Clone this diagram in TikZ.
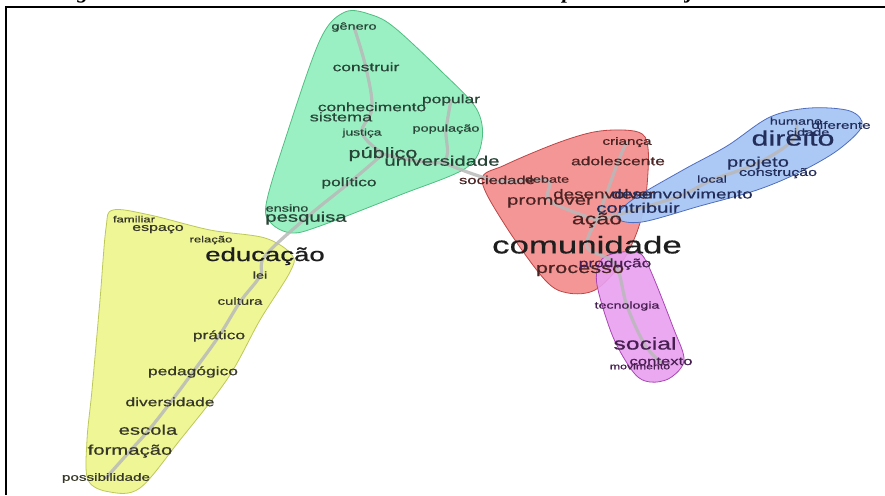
\documentclass[tikz,border=0pt]{standalone}
\usepackage{fontspec}
\newfontfamily\wf[FakeStretch=1.45,FakeBold=0.6]{Liberation Sans}
\newfontfamily\titlef{Liberation Serif}
\pgfdeclarelayer{hull}\pgfdeclarelayer{tree}
\pgfsetlayers{hull,tree,main}
\definecolor{gfill}{RGB}{155,240,195}\definecolor{gedge}{RGB}{80,190,130}
\definecolor{yfill}{RGB}{238,246,150}\definecolor{yedge}{RGB}{190,200,90}
\definecolor{rfill}{RGB}{244,150,150}\definecolor{redge}{RGB}{190,70,70}
\definecolor{bfill}{RGB}{168,198,245}\definecolor{bedge}{RGB}{80,110,190}
\definecolor{mfill}{RGB}{232,160,240}\definecolor{medge}{RGB}{170,70,180}
\definecolor{gt}{RGB}{40,68,55}\definecolor{yt}{RGB}{55,55,40}
\definecolor{rt}{RGB}{75,35,35}\definecolor{bt}{RGB}{35,45,90}
\definecolor{mt}{RGB}{70,30,80}\definecolor{kt}{RGB}{30,30,30}
\definecolor{treegray}{RGB}{185,185,185}
\tikzset{
  w/.style={inner sep=0pt, font=\wf\fontsize{#1}{#1}\selectfont, text height={0.53*#1pt}, text depth=0pt},
  hullg/.style={fill=gfill, draw=gedge, line width=0.8pt},
  hully/.style={fill=yfill, draw=yedge, line width=0.8pt},
  hullr/.style={fill=rfill, draw=redge, line width=0.8pt},
  hullb/.style={fill=bfill, draw=bedge, line width=0.8pt, fill opacity=0.95},
  hullm/.style={fill=mfill, draw=medge, line width=0.8pt, fill opacity=0.9},
  tree/.style={draw=treegray, line width=3.2pt, opacity=0.85, line cap=round, line join=round},
  titleletter/.style={font=\titlef\bfseries\itshape\fontsize{22}{22}\selectfont, anchor=base, inner sep=0pt},
  frame/.style={line width=2.5pt, draw=black}
}
\begin{document}
\begin{tikzpicture}[x=1pt,y=-1pt]
\useasboundingbox (0,0) rectangle (885,495);
\begin{pgfonlayer}{hull}
\fill[white] (0,0) rectangle (885,495);
% green hull
\draw[hullg] plot[smooth cycle, tension=0.55] coordinates {(345,12) (372,15) (395,28) (440,70) (476,108) (482,140) (466,168) (400,195) (320,226) (292,233) (272,224) (266,205) (285,140) (320,40)};
% yellow hull
\draw[hully] plot[smooth cycle, tension=0.55] coordinates {(113,210) (150,215) (210,230) (265,238) (292,255) (290,272) (260,320) (228,378) (180,440) (140,488) (110,492) (88,480) (87,440) (92,390) (100,300) (106,228)};
% red hull
\draw[hullr] plot[smooth cycle, tension=0.55] coordinates {(482,180) (505,165) (560,142) (600,131) (638,132) (648,148) (646,195) (637,232) (620,265) (595,290) (568,293) (545,280) (505,225)};
% blue hull
\draw[hullb] plot[smooth cycle, tension=0.55] coordinates {(617,218) (632,200) (683,170) (727,146) (770,117) (810,108) (850,111) (862,126) (838,150) (800,172) (757,190) (700,206) (642,222)};
% magenta hull
\draw[hullm] plot[smooth cycle, tension=0.55] coordinates {(600,262) (612,254) (636,252) (648,265) (673,327) (684,360) (670,378) (650,382) (634,373) (613,337) (597,285)};
\end{pgfonlayer}
% green words
\node[w=10,text=gt] (genero) at (354,27) {gênero};
\node[w=12,text=gt] (construir) at (366,68) {construir};
\node[w=12,text=gt] (conhecimento) at (372,108) {conhecimento};
\node[w=12,text=gt] (popular) at (451,100) {popular};
\node[w=12.5,text=gt] (sistema) at (341,118) {sistema};
\node[w=9.5,text=gt] (justica) at (362,133) {justiça};
\node[w=10,text=gt] (populacao) at (446,129) {população};
\node[w=15,text=gt] (publico) at (383,154) {público};
\node[w=14,text=gt] (universidade) at (442,162) {universidade};
\node[w=12,text=gt] (politico) at (349,183) {político};
\node[w=10,text=gt] (ensino) at (287,209) {ensino};
\node[w=14,text=gt] (pesquisa) at (306,218) {pesquisa};
% yellow words
\node[w=9,text=yt] (familiar) at (134,220) {familiar};
\node[w=11,text=yt] (espaco) at (158,228) {espaço};
\node[w=9,text=yt] (relacao) at (211,240) {relação};
\node[w=19,text=kt] (educacao) at (265,256) {educação};
\node[w=10,text=yt] (lei) at (260,276) {lei};
\node[w=10.3,text=yt] (cultura) at (240,302) {cultura};
\node[w=12,text=yt] (pratico) at (219,336) {prático};
\node[w=12,text=yt] (pedagogico) at (193,372) {pedagógico};
\node[w=12,text=yt] (diversidade) at (170,403) {diversidade};
\node[w=14,text=yt] (escola) at (148,431) {escola};
\node[w=14,text=yt] (formacao) at (130,451) {formação};
\node[w=10.5,text=yt] (possibilidade) at (106,478) {possibilidade};
% red words
\node[w=11.5,text=rt] (sociedade) at (497,181) {sociedade};
\node[w=10,text=rt] (debate) at (547,180) {debate};
\node[w=10.5,text=rt] (crianca) at (627,142) {criança};
\node[w=12,text=rt] (adolescente) at (618,162) {adolescente};
\node[w=14,text=rt] (promover) at (550,201) {promover};
\node[w=13,text=rt] (desenvolver) at (604,195) {desenvolver};
\node[w=13,text=bt] (desenvolvimento) at (682,195) {desenvolvimento};
\node[w=14,text=bt] (contribuir) at (638,209) {contribuir};
\node[w=16,text=rt] (acao) at (597,220) {ação};
\node[w=24,text=kt] (comunidade) at (587,247) {comunidade};
\node[w=15,text=rt] (processo) at (580,269) {processo};
\node[w=12,text=mt] (producao) at (615,264) {produção};
% blue words
\node[w=10,text=bt] (humano) at (796,122) {humano};
\node[w=10.5,text=bt] (diferente) at (841,126) {diferente};
\node[w=10,text=bt] (cidade) at (808,133) {cidade};
\node[w=21,text=bt] (direito) at (793,140) {direito};
\node[w=14,text=bt] (projeto) at (758,163) {projeto};
\node[w=11,text=bt] (construcao) at (778,173) {construção};
\node[w=10,text=bt] (local) at (712,180) {local};
% magenta words
\node[w=9.8,text=mt] (tecnologia) at (627,306) {tecnologia};
\node[w=17,text=mt] (social) at (645,345) {social};
\node[w=11.5,text=mt] (contexto) at (661,362) {contexto};
\node[w=8.5,text=mt] (movimento) at (640,367) {movimento};
% tree lines
\begin{pgfonlayer}{tree}
\draw[tree] plot[smooth, tension=0.6] coordinates {(possibilidade) (formacao) (escola) (diversidade) (pedagogico) (pratico) (cultura) (lei) (educacao) (pesquisa) (politico) (publico)};
\draw[tree] plot[smooth, tension=0.6] coordinates {(publico) (justica) (conhecimento) (construir) (genero)};
\draw[tree] plot[smooth, tension=0.6] coordinates {(publico) (universidade) (populacao) (popular)};
\draw[tree] plot[smooth, tension=0.6] coordinates {(universidade) (sociedade) (debate) (promover) (acao)};
\draw[tree] plot[smooth, tension=0.6] coordinates {(acao) (adolescente) (crianca)};
\draw[tree] plot[smooth, tension=0.6] coordinates {(acao) (comunidade) (producao) (tecnologia) (social) (contexto)};
\draw[tree] plot[smooth, tension=0.6] coordinates {(acao) (contribuir) (desenvolvimento) (local) (projeto) (direito) (humano)};
\end{pgfonlayer}
% frame and clipped title descenders
\draw[frame] (885,7) -- (6,7) -- (6,495);
\begin{scope}
\clip (0,0) rectangle (885,6);
\node[titleletter] (tg) at (83,-1) {g};
\node[titleletter] (tp) at (568,-1) {p};
\node[titleletter] (tj) at (690,-1) {j};
\end{scope}
\end{tikzpicture}
\end{document}
